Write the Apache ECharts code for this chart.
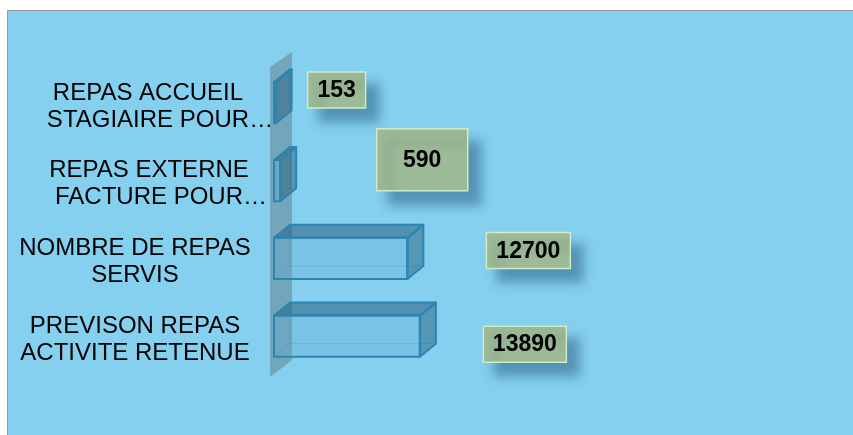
<!DOCTYPE html>
<html>
<head>
<meta charset="utf-8">
<script src="https://cdn.jsdelivr.net/npm/echarts@6/dist/echarts.min.js"></script>
<style>
  html, body { margin: 0; padding: 0; background: #fff; }
  #chart { width: 853px; height: 435px; }
</style>
</head>
<body>
<div id="chart"></div>
<script>
// categories, top to bottom
const categories = [
  'REPAS ACCUEIL\nSTAGIAIRE POUR…',
  'REPAS EXTERNE\nFACTURE POUR…',
  'NOMBRE DE REPAS\nSERVIS',
  'PREVISON REPAS\nACTIVITE RETENUE'
]
const values = [153, 590, 12700, 13890]

// data label boxes, placed by hand in the original: [dx, dy, width, height] from bar end
const labelBoxes = [
  [61, -13, 58, 36],
  [142, -21, 91, 62],
  [121, -8, 84, 36],
  [105, 8, 83, 36]
]
// left padding to mimic the off-centre truncated lines
const linePad = [[26, 50], [28, 52], [0, 0], [0, 0]]

const DX = 16, DY = -13

const chart = echarts.init(document.getElementById('chart'))

function renderWall(params, api) {
  const band = api.size([0, 1])[1]
  const top = api.coord([0, 0])[1] - band / 2
  const bottom = api.coord([0, categories.length - 1])[1] + band / 2
  const x0 = api.coord([0, 0])[0]
  return {
    type: 'polygon',
    shape: { points: [[x0 - 4, top + 3], [x0 + 18, top - 12], [x0 + 18, bottom - 15], [x0 - 4, bottom + 2]] },
    style: { fill: 'rgba(95,115,125,0.45)' }
  }
}

function renderBox(params, api) {
  const val = api.value(0)
  const cat = api.value(1)
  const start = api.coord([0, cat])
  const end = api.coord([val, cat])
  const h = api.size([0, 1])[1] * 0.53
  const x0 = start[0], x1 = end[0]
  const yT = start[1] - h / 2, yB = start[1] + h / 2
  const stroke = '#2b86b2'
  const lb = labelBoxes[params.dataIndex]
  const bx = x1 + lb[0] - lb[2] / 2, by = start[1] + lb[1] - lb[3] / 2
  return {
    type: 'group',
    children: [
      {
        type: 'rect',
        shape: { x: x0 + DX, y: yT + DY, width: x1 - x0, height: h },
        style: { fill: 'none', stroke: 'rgba(40,130,170,0.3)', lineWidth: 1 }
      },
      {
        type: 'polyline',
        shape: { points: [[x0 + DX, yB + DY], [x0, yB]] },
        style: { stroke: 'rgba(40,130,170,0.3)', lineWidth: 1 }
      },
      {
        type: 'rect',
        shape: { x: x0, y: yT, width: x1 - x0, height: h },
        style: { fill: 'rgba(95,170,210,0.3)', stroke: stroke, lineWidth: 2 }
      },
      {
        type: 'polygon',
        shape: { points: [[x0, yT], [x0 + DX, yT + DY], [x1 + DX, yT + DY], [x1, yT]] },
        style: { fill: 'rgba(40,95,125,0.55)', stroke: stroke, lineWidth: 2, lineJoin: 'round' }
      },
      {
        type: 'polygon',
        shape: { points: [[x1, yT], [x1 + DX, yT + DY], [x1 + DX, yB + DY], [x1, yB]] },
        style: { fill: 'rgba(40,95,125,0.5)', stroke: stroke, lineWidth: 2, lineJoin: 'round' }
      },
      {
        type: 'rect',
        shape: { x: bx, y: by, width: lb[2], height: lb[3] },
        style: {
          fill: '#9dba96', stroke: '#d3e9c8', lineWidth: 1.5,
          shadowBlur: 10, shadowColor: 'rgba(35,90,125,0.5)', shadowOffsetX: 12, shadowOffsetY: 13
        }
      },
      {
        type: 'text',
        x: bx + lb[2] / 2, y: by + lb[3] / 2 + 1,
        style: {
          text: String(val), fill: '#000', align: 'center', verticalAlign: 'middle',
          font: 'bold 23px "Liberation Sans", Arial, sans-serif'
        }
      }
    ]
  }
}

const option = {
  animation: false,
  graphic: [{
    type: 'rect', z: -10, silent: true,
    shape: { x: 7.5, y: 10.5, width: 900, height: 500 },
    style: { fill: '#85cfef', stroke: '#9a9a9a', lineWidth: 1 }
  }],
  grid: { left: 274, top: 64, right: 54, bottom: 60, outerBoundsMode: 'none', containLabel: false },
  xAxis: { type: 'value', min: 0, max: 50000, show: false },
  yAxis: {
    type: 'category',
    data: categories,
    inverse: true,
    axisLine: { show: false },
    axisTick: { show: false },
    splitLine: { show: false },
    axisLabel: {
      margin: 139,
      align: 'center',
      color: '#000',
      fontFamily: '"Liberation Sans", Arial, sans-serif',
      fontSize: 24,
      lineHeight: 27,
      padding: [7, 0, 0, 0],
      formatter: function (v, i) {
        const lines = v.split('\n')
        return lines.map(function (l, k) {
          return '{p' + linePad[i][k] + '|' + l + '}'
        }).join('\n')
      },
      rich: {
        p0: { padding: [0, 0, 0, 0] },
        p26: { padding: [0, 0, 0, 26] },
        p28: { padding: [0, 0, 0, 28] },
        p50: { padding: [0, 0, 0, 50] },
        p52: { padding: [0, 0, 0, 52] }
      }
    }
  },
  series: [
    {
      type: 'custom',
      renderItem: renderWall,
      data: [[0, 0]],
      z: 1,
      silent: true
    },
    {
      type: 'custom',
      renderItem: renderBox,
      encode: { x: 0, y: 1 },
      data: values.map(function (v, i) { return [v, i] }),
      z: 2
    }
  ]
}

chart.setOption(option)
</script>
</body>
</html>
